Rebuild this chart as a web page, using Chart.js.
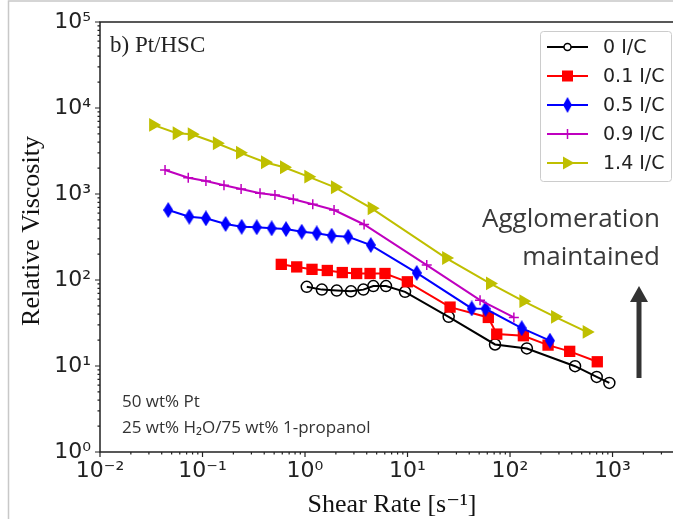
<!DOCTYPE html>
<html><head><meta charset="utf-8">
<script src="https://cdn.jsdelivr.net/npm/chart.js@4/dist/chart.umd.min.js"></script>
<style>html,body{margin:0;padding:0;background:#fff}canvas{display:block}</style>
</head><body>
<canvas id="c" width="673" height="519"></canvas>
<script>
// ---- data ----
const seriesNames = ['0 I/C', '0.1 I/C', '0.5 I/C', '0.9 I/C', '1.4 I/C'];
const rate0 = [1.04, 1.46, 2.04, 2.81, 3.71, 4.64, 6.17, 9.46, 25.2, 71.4, 146, 431, 701, 931];
const visc0 = [83.3, 77.3, 75.3, 73.9, 77.3, 84.9, 84.9, 72.9, 37.3, 17.8, 16.0, 9.95, 7.47, 6.36];
const rate01 = [0.587, 0.830, 1.17, 1.65, 2.31, 3.19, 4.31, 6.03, 9.96, 26.0, 61.4, 74.2, 135, 235, 382, 710];
const visc01 = [152, 142, 133, 129, 122, 119, 119, 119, 95.3, 48.4, 36.7, 23.5, 22.5, 17.5, 14.8, 11.2];
const rate05 = [0.0463, 0.0743, 0.108, 0.168, 0.241, 0.338, 0.473, 0.653, 0.929, 1.30, 1.82, 2.64, 4.38, 12.3, 42.3, 57.7, 130, 245];
const visc05 = [651, 544, 521, 448, 416, 410, 399, 391, 364, 349, 327, 318, 255, 121, 46.7, 46.2, 27.5, 19.7];
const rate09 = [0.0431, 0.0726, 0.108, 0.162, 0.238, 0.364, 0.509, 0.769, 1.19, 1.92, 3.77, 15.4, 51, 109];
const visc09 = [1903, 1548, 1417, 1263, 1143, 1019, 973, 867, 759, 651, 442, 149, 58.3, 36.7];
const rate14 = [0.033, 0.056, 0.0785, 0.138, 0.232, 0.407, 0.624, 1.077, 1.96, 4.47, 23.8, 63.8, 134.9, 275, 560];
const visc14 = [6360, 5090, 4955, 3890, 3025, 2340, 2045, 1590, 1197, 682, 180, 91.3, 56.8, 37.3, 24.9];

const xTickValues = [0.01, 0.1, 1, 10, 100, 1000];
const xTickLabels = ['10⁻²', '10⁻¹', '10⁰', '10¹', '10²', '10³'];
const yTickValues = [1, 10, 100, 1000, 10000, 100000];
const yTickLabels = ['10⁰', '10¹', '10²', '10³', '10⁴', '10⁵'];

const xTitle = 'Shear Rate [s⁻¹]';
const yTitle = 'Relative Viscosity';
const panelLabel = 'b) Pt/HSC';
const noteLines = ['50 wt% Pt', '25 wt% H₂O/75 wt% 1-propanol'];
const arrowLines = ['Agglomeration', 'maintained'];

// ---- custom marker images ----
function thinDiamond(w, h, color) {
  const c = document.createElement('canvas');
  c.width = w; c.height = h;
  const g = c.getContext('2d');
  g.fillStyle = color;
  g.beginPath();
  g.moveTo(w / 2, 0); g.lineTo(w, h / 2); g.lineTo(w / 2, h); g.lineTo(0, h / 2);
  g.closePath(); g.fill();
  return c;
}
const diamondImg = thinDiamond(10, 16, '#0000ff');

const colors = ['#000000', '#ff0000', '#0000ff', '#bf00bf', '#bfbf00'];
const pts = (xs, ys) => xs.map((x, i) => ({x: x, y: ys[i]}));

const datasets = [
  {label: seriesNames[0], data: pts(rate0, visc0), borderColor: colors[0], pointStyle: 'circle', pointRadius: 5.5,
   pointBorderColor: colors[0], pointBackgroundColor: 'rgba(0,0,0,0)', pointBorderWidth: 1.5, order: 4},
  {label: seriesNames[1], data: pts(rate01, visc01), borderColor: colors[1], pointStyle: 'rect', pointRadius: 8,
   pointBorderColor: colors[1], pointBackgroundColor: colors[1], pointBorderWidth: 0, order: 3},
  {label: seriesNames[2], data: pts(rate05, visc05), borderColor: colors[2], pointStyle: diamondImg, pointRadius: 8,
   pointBorderColor: colors[2], pointBackgroundColor: colors[2], order: 2},
  {label: seriesNames[3], data: pts(rate09, visc09), borderColor: colors[3], pointStyle: 'cross', pointRadius: 5,
   pointBorderColor: colors[3], pointBackgroundColor: colors[3], pointBorderWidth: 1.5, order: 1},
  {label: seriesNames[4], data: pts(rate14, visc14), borderColor: colors[4], pointStyle: 'triangle', pointRadius: 8,
   pointRotation: 90, pointBorderColor: colors[4], pointBackgroundColor: colors[4], pointBorderWidth: 0, order: 0}
];
datasets.forEach(d => { d.borderWidth = 2; d.showLine = true; d.fill = false; d.tension = 0; });

const PLOT_LEFT = 100, PLOT_TOP = 22, PLOT_BOTTOM_H = 67;

function drawMarker(ctx, i, x, y) {
  const c = colors[i];
  ctx.save();
  ctx.fillStyle = c; ctx.strokeStyle = c;
  if (i === 0) {
    ctx.lineWidth = 1.5; ctx.beginPath(); ctx.arc(x, y, 3.5, 0, Math.PI * 2); ctx.fillStyle = '#fff'; ctx.fill(); ctx.stroke();
  } else if (i === 1) {
    ctx.fillRect(x - 5.5, y - 5.5, 11, 11);
  } else if (i === 2) {
    ctx.drawImage(diamondImg, x - 4.5, y - 8, 9, 16);
  } else if (i === 3) {
    ctx.lineWidth = 1.5; ctx.beginPath(); ctx.moveTo(x - 5, y); ctx.lineTo(x + 5, y); ctx.moveTo(x, y - 5); ctx.lineTo(x, y + 5); ctx.stroke();
  } else {
    ctx.beginPath(); ctx.moveTo(x + 7, y); ctx.lineTo(x - 4.5, y - 6.5); ctx.lineTo(x - 4.5, y + 6.5); ctx.closePath(); ctx.fill();
  }
  ctx.restore();
}

const decor = {
  id: 'decor',
  afterDraw(chart) {
    const ctx = chart.ctx;
    const a = chart.chartArea;
    const xs = chart.scales.x, ys = chart.scales.y;
    ctx.save();
    // outer frame
    ctx.strokeStyle = '#c8c8c8'; ctx.lineWidth = 1.5;
    ctx.beginPath(); ctx.moveTo(8.5, 519); ctx.lineTo(8.5, 1); ctx.lineTo(673, 1); ctx.stroke();
    // spines
    ctx.strokeStyle = '#222'; ctx.lineWidth = 1.5;
    ctx.beginPath();
    ctx.moveTo(a.right + 2, a.top); ctx.lineTo(a.left, a.top); ctx.lineTo(a.left, a.bottom); ctx.lineTo(a.right + 2, a.bottom);
    ctx.stroke();
    // ticks
    ctx.lineWidth = 1.2;
    ctx.beginPath();
    for (let e = -2; e <= 3; e++) {
      for (let k = 1; k <= 9; k++) {
        const v = k * Math.pow(10, e);
        const px = xs.getPixelForValue(v);
        if (px < a.left - 0.5 || px > a.right) continue;
        const len = k === 1 ? 5 : 2.5;
        ctx.moveTo(px, a.bottom); ctx.lineTo(px, a.bottom + len);
      }
    }
    for (let e = 0; e <= 5; e++) {
      for (let k = 1; k <= 9; k++) {
        const v = k * Math.pow(10, e);
        if (v > 100000) continue;
        const py = ys.getPixelForValue(v);
        const len = k === 1 ? 5 : 2.5;
        ctx.moveTo(a.left, py); ctx.lineTo(a.left - len, py);
      }
    }
    ctx.stroke();
    // axis titles
    ctx.fillStyle = '#111';
    ctx.font = '26px "Liberation Serif", "DejaVu Serif", serif';
    ctx.textAlign = 'center'; ctx.textBaseline = 'alphabetic';
    ctx.fillText(xTitle, 392, 512);
    ctx.save();
    ctx.translate(39, 231); ctx.rotate(-Math.PI / 2);
    ctx.fillText(yTitle, 0, 0);
    ctx.restore();
    // panel label
    ctx.textAlign = 'left';
    ctx.font = '23px "Liberation Serif", serif';
    ctx.fillStyle = '#222';
    ctx.fillText(panelLabel, 110, 52);
    // notes
    ctx.font = '17px "Open Sans", Lato, sans-serif';
    ctx.fillStyle = '#333';
    ctx.fillText(noteLines[0], 122, 407);
    ctx.fillText(noteLines[1], 122, 433);
    // annotation
    ctx.font = '26px "Open Sans", Lato, sans-serif';
    ctx.fillStyle = '#3a3a3a';
    ctx.textAlign = 'right';
    ctx.fillText(arrowLines[0], 660, 227);
    ctx.fillText(arrowLines[1], 660, 265);
    // arrow
    ctx.strokeStyle = '#333'; ctx.fillStyle = '#333'; ctx.lineWidth = 5;
    ctx.beginPath(); ctx.moveTo(639, 378); ctx.lineTo(639, 300); ctx.stroke();
    ctx.beginPath(); ctx.moveTo(630, 302); ctx.lineTo(648, 302); ctx.lineTo(639, 286); ctx.closePath(); ctx.fill();
    // legend
    const lx = 540.5, ly = 31.5, lw = 131, lh = 150;
    ctx.fillStyle = 'rgba(255,255,255,0.9)';
    ctx.strokeStyle = '#cccccc'; ctx.lineWidth = 1;
    ctx.beginPath();
    if (ctx.roundRect) ctx.roundRect(lx, ly, lw, lh, 3); else ctx.rect(lx, ly, lw, lh);
    ctx.fill(); ctx.stroke();
    ctx.font = '19px "DejaVu Sans", sans-serif';
    ctx.textAlign = 'left'; ctx.textBaseline = 'middle';
    for (let i = 0; i < seriesNames.length; i++) {
      const y = 47 + i * 29;
      ctx.strokeStyle = colors[i]; ctx.lineWidth = 2;
      ctx.beginPath(); ctx.moveTo(547, y); ctx.lineTo(588, y); ctx.stroke();
      drawMarker(ctx, i, 567.5, y);
      ctx.fillStyle = '#222';
      ctx.fillText(seriesNames[i], 603, y + 1);
    }
    ctx.restore();
  }
};

new Chart(document.getElementById('c'), {
  type: 'scatter',
  data: {datasets: datasets},
  options: {
    responsive: false,
    animation: false,
    devicePixelRatio: 1,
    events: [],
    layout: {autoPadding: false, padding: {top: PLOT_TOP, right: 0, left: 0, bottom: 0}},
    plugins: {legend: {display: false}, tooltip: {enabled: false}},
    scales: {
      x: {
        type: 'logarithmic', min: 0.01, max: 3890,
        grid: {display: false, drawTicks: false, tickLength: 0},
        border: {display: false},
        afterFit: s => { s.height = PLOT_BOTTOM_H; s.paddingLeft = 0; s.paddingRight = 0; },
        afterBuildTicks: s => { s.ticks = xTickValues.map(v => ({value: v})); },
        ticks: {
          autoSkip: false, maxRotation: 0, padding: 6, color: '#222',
          font: {family: '"DejaVu Sans"', size: 22},
          callback: (v, i) => xTickLabels[i]
        }
      },
      y: {
        type: 'logarithmic', min: 1, max: 100000,
        grid: {display: false, drawTicks: false, tickLength: 0},
        border: {display: false},
        afterFit: s => { s.width = PLOT_LEFT; s.paddingTop = 0; s.paddingBottom = 0; },
        afterBuildTicks: s => { s.ticks = yTickValues.map(v => ({value: v})); },
        ticks: {
          autoSkip: false, padding: 9, color: '#222',
          font: {family: '"DejaVu Sans"', size: 22},
          callback: (v, i) => yTickLabels[i]
        }
      }
    }
  },
  plugins: [decor]
});
</script>
</body></html>
